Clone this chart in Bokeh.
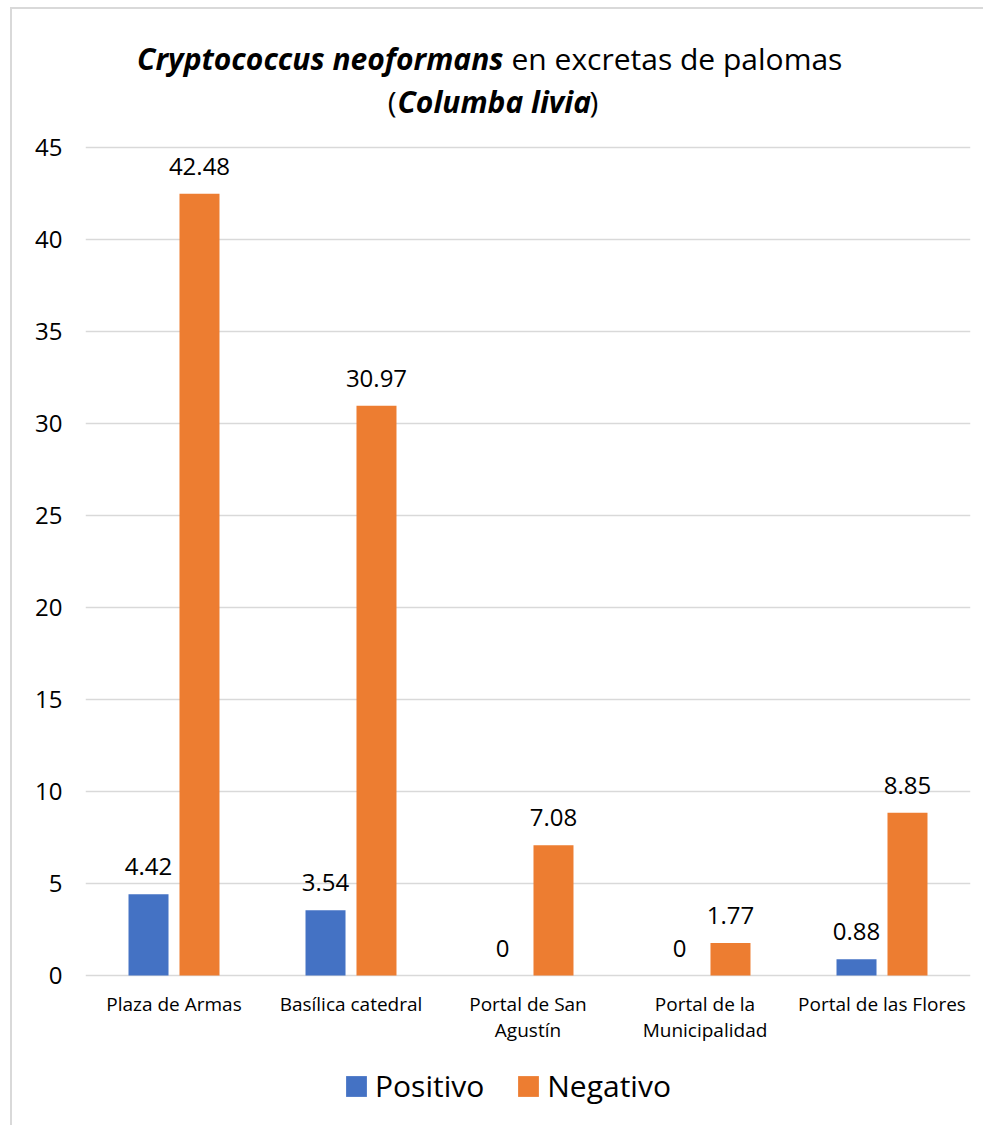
from bokeh.plotting import figure
from bokeh.models import (ColumnDataSource, FactorRange, Range1d, FixedTicker,
                          LabelSet, Label, Legend, LegendItem)
from bokeh.transform import dodge
from bokeh.core.properties import value
from bokeh.embed import file_html
from bokeh.resources import INLINE

# ---- data ----
categories = ["Plaza de Armas", "Basílica catedral", "Portal de San\nAgustín",
              "Portal de la\nMunicipalidad", "Portal de las Flores"]
positivo = [4.42, 3.54, 0, 0, 0.88]
negativo = [42.48, 30.97, 7.08, 1.77, 8.85]
series_names = ["Positivo", "Negativo"]
series_colors = ["#4472C4", "#ED7D31"]
y_ticks = [0, 5, 10, 15, 20, 25, 30, 35, 40, 45]

FONT = "Open Sans"

# ---- layout (pixels) ----
W, H = 973, 1118            # canvas size (placed at page x=12, y=9)
CANVAS_X0, CANVAS_Y0 = 12, 9
LEFT, RIGHT = 73, 15        # borders around the frame (frame spans full height)
ZERO_Y = 975 - CANVAS_Y0    # canvas y of value 0
PX_PER_UNIT = 828 / 45.0    # pixels per value unit
y_start = -(H - ZERO_Y) / PX_PER_UNIT
y_end = ZERO_Y / PX_PER_UNIT


def sx(page_x):
    return page_x - CANVAS_X0 - LEFT


def sy(page_y):
    return (CANVAS_Y0 + H) - page_y


lines = [c.split("\n") for c in categories]
src = ColumnDataSource(dict(
    cat=categories,
    zero=[0] * len(categories),
    line1=[l[0] for l in lines],
    line2=[l[1] if len(l) > 1 else "" for l in lines],
    pos=positivo,
    neg=negativo,
    pos_lbl=[f"{v:g}" for v in positivo],
    neg_lbl=[f"{v:g}" for v in negativo],
))

p = figure(x_range=FactorRange(*categories), y_range=Range1d(y_start, y_end),
           width=W, height=H, output_backend="svg", toolbar_location=None,
           min_border_left=LEFT, min_border_right=RIGHT, min_border_top=0,
           min_border_bottom=0)
p.margin = (7, 0, 0, 10)
p.styles = {"border-left": "2px solid #d9d9d9", "border-top": "2px solid #d9d9d9"}
p.outline_line_color = None
p.background_fill_color = "white"
p.border_fill_color = "white"

off = 0.144
bw = 0.226
r1 = p.vbar(x=dodge("cat", -off, range=p.x_range), top="pos", width=bw, source=src,
            fill_color=series_colors[0], line_color=None)
r2 = p.vbar(x=dodge("cat", off, range=p.x_range), top="neg", width=bw, source=src,
            fill_color=series_colors[1], line_color=None)

for xoff, col in ((-off, "pos"), (off, "neg")):
    p.add_layout(LabelSet(x=dodge("cat", xoff, range=p.x_range), y=col, text=col + "_lbl",
                          source=src, text_align="center", text_baseline="alphabetic",
                          y_offset=19, text_font=value(FONT), text_font_size=value("24px"),
                          text_color="#000000"))

# category labels (two centred lines), placed under value 0 via the categorical scale
for field, yoff in (("line1", -15), ("line2", -41)):
    p.add_layout(LabelSet(x="cat", y="zero", text=field, source=src, text_align="center",
                          text_baseline="top", y_offset=yoff, text_font=value(FONT),
                          text_font_size=value("19px"), text_color="#000000"))

# axes
p.yaxis.ticker = FixedTicker(ticks=y_ticks)
p.yaxis.axis_line_color = None
p.yaxis.major_tick_line_color = None
p.yaxis.minor_tick_line_color = None
p.yaxis.major_tick_out = 0
p.yaxis.major_label_standoff = 23
p.yaxis.major_label_text_font = FONT
p.yaxis.major_label_text_font_size = "24px"
p.yaxis.major_label_text_color = "#000000"

p.xaxis.visible = False

p.xgrid.grid_line_color = None
p.ygrid.grid_line_color = "#d9d9d9"
p.ygrid.grid_line_width = 1.5
p.ygrid.ticker = FixedTicker(ticks=y_ticks)

# title (mixed styles) as labels relative to the plot frame
title_parts = [
    ("Cryptococcus neoformans", 503, 58, "right", "bold italic"),
    ("en excretas de palomas", 511, 58, "left", "normal"),
    ("(", 396, 101, "right", "normal"),
    ("Columba livia", 397, 101, "left", "bold italic"),
    (")", 589, 101, "left", "normal"),
]
for txt, x, y, align, style in title_parts:
    p.add_layout(Label(x=sx(x), y=sy(y), x_units="screen", y_units="screen", text=txt,
                       text_align=align, text_baseline="alphabetic",
                       text_font=FONT, text_font_size="30px", text_font_style=style,
                       text_color="#000000"))

legend = Legend(items=[LegendItem(label=series_names[0], renderers=[r1]),
                       LegendItem(label=series_names[1], renderers=[r2])],
                orientation="horizontal", location=(sx(343), sy(1106)),
                glyph_width=26, glyph_height=26, label_standoff=6, spacing=31,
                padding=0, margin=0, border_line_color=None,
                background_fill_alpha=0, label_text_font=FONT,
                label_text_font_size="30px", label_text_color="#000000")
p.add_layout(legend, "center")

open("out.html", "w").write(file_html(p, INLINE))
